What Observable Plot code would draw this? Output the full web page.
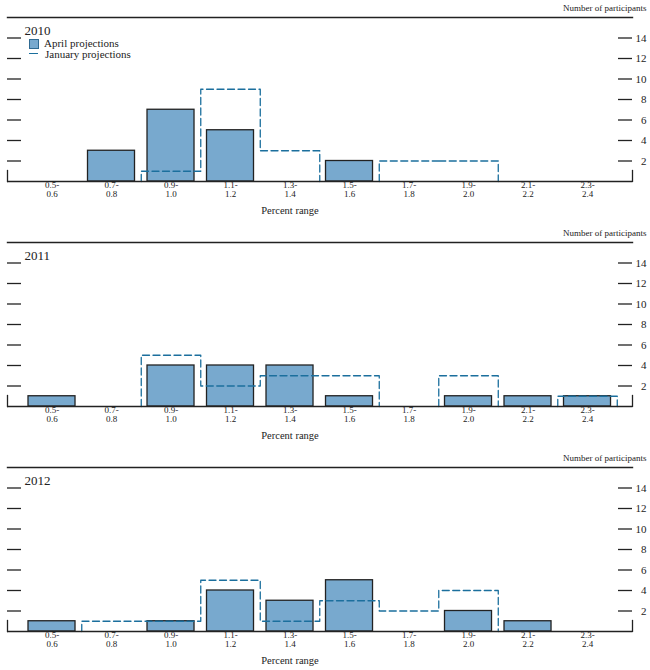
<!DOCTYPE html>
<html><head><meta charset="utf-8">
<script src="https://cdn.jsdelivr.net/npm/d3@7"></script>
<script src="https://cdn.jsdelivr.net/npm/@observablehq/plot@0.6"></script>
<style>
body{margin:0;background:#fff;}
#chart{position:relative;width:650px;height:670px;font-family:"Liberation Serif",serif;color:#222;}
#chart svg{display:block;}
.leg{position:absolute;font-size:11px;line-height:1;white-space:nowrap;}
</style></head><body><div id="chart"></div>
<script>
const years = ["2010", "2011", "2012"];
const rangeLabels = ["0.5-0.6","0.7-0.8","0.9-1.0","1.1-1.2","1.3-1.4","1.5-1.6","1.7-1.8","1.9-2.0","2.1-2.2","2.3-2.4"];
const april2010   = [0, 3, 7, 5, 0, 2, 0, 0, 0, 0];
const january2010 = [0, 0, 1, 9, 3, 0, 2, 2, 0, 0];
const april2011   = [1, 0, 4, 4, 4, 1, 0, 1, 1, 1];
const january2011 = [0, 0, 5, 2, 3, 3, 0, 3, 0, 1];
const april2012   = [1, 0, 1, 4, 3, 5, 0, 2, 1, 0];
const january2012 = [0, 1, 1, 5, 1, 3, 2, 4, 0, 0];
const yTicks = [2, 4, 6, 8, 10, 12, 14];
const yLabel = "Number of participants";
const xLabel = "Percent range";
const legendLabels = ["April projections", "January projections"];

const BAR = "#78a9ce", JAN = "#1b6f9d", INK = "#222";

function panel(year, april, january, height) {
  const bars = april.map((v, i) => ({i, v})).filter(d => d.v > 0);
  const pts = []; let run = 0;
  january.forEach((v, i) => {
    if (v <= 0) return;
    if (i === 0 || january[i - 1] <= 0) { run++; pts.push({x: i - 0.5, y: 0, run}); }
    pts.push({x: i - 0.5, y: v, run}, {x: i + 0.5, y: v, run});
    if (i === january.length - 1 || january[i + 1] <= 0) pts.push({x: i + 0.5, y: 0, run});
  });
  return Plot.plot({
    width: 650, height,
    marginLeft: 7, marginRight: 18, marginTop: 17, marginBottom: height - 181,
    x: {type: "linear", domain: [-0.748, 9.756]},
    y: {domain: [0, 16]},
    style: {fontFamily: '"Liberation Serif", serif', fontSize: "11px", color: INK, background: "white"},
    marks: [
      Plot.rectY(bars, {x1: d => d.i - 0.395, x2: d => d.i + 0.395, y: "v", fill: BAR, stroke: INK, strokeWidth: 1.3}),
      Plot.line(pts, {x: "x", y: "y", z: "run", stroke: JAN, strokeWidth: 1.3, strokeDasharray: "7,3.5"}),
      Plot.ruleY([0], {stroke: INK, strokeWidth: 1.4}),
      Plot.frame({anchor: "top", stroke: INK, strokeWidth: 1.4}),
      Plot.frame({anchor: "left", insetTop: 153, stroke: INK, strokeWidth: 1.3}),
      Plot.frame({anchor: "right", insetTop: 153, stroke: INK, strokeWidth: 1.3}),
      Plot.tickY(yTicks, {y: d => d, insetRight: 611, stroke: INK, strokeWidth: 1.3}),
      Plot.tickY(yTicks, {y: d => d, insetLeft: 611, stroke: INK, strokeWidth: 1.3}),
      Plot.axisY({anchor: "right", ticks: yTicks, tickSize: 0, tickPadding: 14, textAnchor: "end", fontSize: 11, label: null}),
      Plot.axisX({ticks: d3.range(rangeLabels.length), tickFormat: i => rangeLabels[i].replace("-", "-\n"),
                  tickSize: 0, tickPadding: 0, fontSize: 9, lineHeight: 1, label: null}),
      Plot.text([year], {frameAnchor: "top-left", dx: 17, dy: 13, fontSize: 13, textAnchor: "start", lineAnchor: "middle"}),
      Plot.text([yLabel], {frameAnchor: "top-right", dx: 14, dy: -9.5, textAnchor: "end", fontSize: 9, lineAnchor: "middle"}),
      Plot.text([xLabel], {frameAnchor: "bottom", dx: -30, dy: 29, fontSize: 10.5, lineAnchor: "middle"})
    ]
  });
}

const chart = document.getElementById("chart");
chart.append(panel(years[0], april2010, january2010, 225));
chart.append(panel(years[1], april2011, january2011, 225));
chart.append(panel(years[2], april2012, january2012, 220));

// legend (first panel)
const sq = document.createElement("div");
sq.style.cssText = `position:absolute;left:29px;top:39px;width:8px;height:8px;background:${BAR};border:1px solid #2f6a92;`;
chart.append(sq);
const ln = document.createElement("div");
ln.style.cssText = `position:absolute;left:29px;top:53px;width:9px;height:0;border-top:1.5px solid ${JAN};`;
chart.append(ln);
const t1 = document.createElement("div");
t1.className = "leg"; t1.style.left = "44px"; t1.style.top = "38px"; t1.textContent = legendLabels[0];
chart.append(t1);
const t2 = document.createElement("div");
t2.className = "leg"; t2.style.left = "45px"; t2.style.top = "49px"; t2.textContent = legendLabels[1];
chart.append(t2);
</script>
</body></html>
